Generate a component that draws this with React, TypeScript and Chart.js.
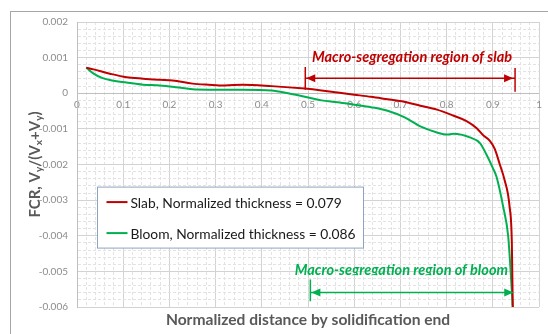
import React, { useEffect, useRef } from "react";
import { Chart, registerables } from "chart.js";

Chart.register(...registerables);

// ---- data ----
const slabX = [0.02, 0.036, 0.071, 0.107, 0.143, 0.179, 0.207, 0.25, 0.285, 0.32, 0.358, 0.421, 0.493, 0.529, 0.564, 0.6, 0.636, 0.672, 0.708, 0.743, 0.779, 0.815, 0.843, 0.865, 0.879, 0.893, 0.904, 0.915, 0.925, 0.936, 0.941, 0.943];
const slabY = [0.00072, 0.00067, 0.00055, 0.00045, 0.00041, 0.00038, 0.00036, 0.00027, 0.00024, 0.00022, 0.00024, 0.0002, 0.00013, 0.00008, 0.00002, -0.00004, -0.0001, -0.00017, -0.00024, -0.00035, -0.00046, -0.00063, -0.00078, -0.00098, -0.00118, -0.00133, -0.00156, -0.002, -0.00242, -0.00317, -0.0042, -0.006];
const bloomX = [0.02, 0.036, 0.054, 0.071, 0.107, 0.143, 0.179, 0.215, 0.25, 0.285, 0.358, 0.421, 0.457, 0.493, 0.529, 0.564, 0.6, 0.636, 0.672, 0.708, 0.743, 0.779, 0.8, 0.815, 0.85, 0.872, 0.886, 0.9, 0.908, 0.922, 0.933, 0.938, 0.943];
const bloomY = [0.00072, 0.00055, 0.00043, 0.00037, 0.0003, 0.00024, 0.00022, 0.00017, 0.00011, 0.0001, 0.0001, 0.00008, 0.0, -0.0001, -0.0002, -0.00025, -0.00032, -0.00039, -0.00049, -0.00067, -0.00093, -0.0011, -0.00116, -0.00114, -0.00124, -0.0014, -0.00172, -0.0021, -0.00235, -0.00317, -0.004, -0.0049, -0.006];

const seriesLabels = ["Slab, Normalized thickness = 0.079", "Bloom, Normalized thickness = 0.086"];
const seriesColors = ["#C00000", "#00B050"];

const xTitle = "Normalized distance by solidification end";
const xRange = [0, 1];
const yRange = [-0.006, 0.002];

// annotations: [xStart, xEnd, yArrow], tick spans, text position
const slabNote = "Macro-segregation region of slab";
const slabArrow = [0.494, 0.948, 0.00042];
const slabTicks = [0.00074, 0.0001, 0.00071, 0.00004];
const slabTextPos = [0.725, 0.001];
const bloomNote = "Macro-segregation region of bloom";
const bloomArrow = [0.505, 0.944, -0.00559];
const bloomTicks = [-0.00523, -0.00584];
const bloomTextPos = [0.702, -0.00497];

const isMajor = (v: number, unit: number) => Math.abs(v / unit - Math.round(v / unit)) < 1e-6;

export default function App() {
  const ref = useRef<HTMLCanvasElement | null>(null);

  useEffect(() => {
    if (!ref.current) return;

    const decor = {
      id: "decor",
      beforeDraw(chart: any) {
        const ctx = chart.ctx;
        ctx.save();
        ctx.fillStyle = "#ffffff";
        ctx.fillRect(0, 0, chart.width, chart.height);
        ctx.strokeStyle = "#a6a6a6";
        ctx.lineWidth = 1;
        ctx.strokeRect(10.5, 11.5, chart.width, chart.height);
        ctx.restore();
      },
      afterDraw(chart: any) {
        const ctx = chart.ctx;
        const xs = chart.scales.x;
        const ys = chart.scales.y;
        const px = (v: number) => xs.getPixelForValue(v);
        const py = (v: number) => ys.getPixelForValue(v);
        const area = chart.chartArea;

        const arrowHead = (tipX: number, y: number, dir: number, color: string) => {
          ctx.fillStyle = color;
          ctx.beginPath();
          ctx.moveTo(tipX, y);
          ctx.lineTo(tipX - dir * 9, y - 4);
          ctx.lineTo(tipX - dir * 9, y + 4);
          ctx.closePath();
          ctx.fill();
        };

        ctx.save();
        // slab annotation
        {
          const c = seriesColors[0];
          const x1 = px(slabArrow[0]);
          const x2 = px(slabArrow[1]);
          const y = py(slabArrow[2]);
          ctx.strokeStyle = c;
          ctx.lineWidth = 1.5;
          ctx.beginPath();
          ctx.moveTo(x1, y);
          ctx.lineTo(x2, y);
          ctx.moveTo(x1, py(slabTicks[0]));
          ctx.lineTo(x1, py(slabTicks[1]));
          ctx.moveTo(x2, py(slabTicks[2]));
          ctx.lineTo(x2, py(slabTicks[3]));
          ctx.stroke();
          arrowHead(x1 + 1, y, -1, c);
          arrowHead(x2 - 2, y, 1, c);
          ctx.font = "italic bold 14.5px Lato";
          ctx.fillStyle = c;
          ctx.textAlign = "center";
          ctx.textBaseline = "middle";
          ctx.fillText(slabNote, px(slabTextPos[0]), py(slabTextPos[1]));
        }
        // bloom annotation
        {
          const c = seriesColors[1];
          const x1 = px(bloomArrow[0]);
          const x2 = px(bloomArrow[1]);
          const y = py(bloomArrow[2]);
          ctx.strokeStyle = c;
          ctx.lineWidth = 1.5;
          ctx.beginPath();
          ctx.moveTo(x1, y);
          ctx.lineTo(x2, y);
          ctx.moveTo(x1, py(bloomTicks[0]));
          ctx.lineTo(x1, py(bloomTicks[1]));
          ctx.stroke();
          arrowHead(x1 + 1, y, -1, c);
          arrowHead(x2, y, 1, c);
          const ty = py(bloomTextPos[1]);
          ctx.save();
          ctx.beginPath();
          ctx.rect(0, ty - 20, chart.width, 25);
          ctx.clip();
          ctx.font = "italic bold 14.5px Lato";
          ctx.fillStyle = c;
          ctx.textAlign = "center";
          ctx.textBaseline = "middle";
          ctx.fillText(bloomNote, px(bloomTextPos[0]), ty);
          ctx.restore();
        }

        // legend box
        {
          const bx = area.left + 20.5;
          const by = py(-0.00262) + 0.5;
          const bw = 266;
          const bh = 61;
          ctx.fillStyle = "#ffffff";
          ctx.fillRect(bx, by, bw, bh);
          ctx.strokeStyle = "#8ea3bf";
          ctx.lineWidth = 1;
          ctx.strokeRect(bx, by, bw, bh);
          ctx.font = "13.8px Lato";
          ctx.textAlign = "left";
          ctx.textBaseline = "middle";
          chart.data.datasets.forEach((ds: any, i: number) => {
            const ly = by + 15 + i * 31;
            ctx.strokeStyle = ds.borderColor;
            ctx.lineWidth = 2;
            ctx.beginPath();
            ctx.moveTo(bx + 9, ly);
            ctx.lineTo(bx + 30, ly);
            ctx.stroke();
            ctx.fillStyle = "#1a1a1a";
            ctx.fillText(ds.label, bx + 33, ly + 1);
          });
        }

        // x title
        ctx.font = "bold 15.6px Lato";
        ctx.fillStyle = "#595959";
        ctx.textAlign = "center";
        ctx.textBaseline = "middle";
        ctx.fillText(xTitle, (area.left + area.right) / 2, 320);

        // y title with subscripts
        {
          const segs: [string, boolean][] = [
            ["FCR, V", false], ["y", true], ["/(V", false], ["x", true], ["+V", false], ["y", true], [")", false],
          ];
          const bigF = "bold 15px Lato";
          const subF = "bold 10px Lato";
          let total = 0;
          segs.forEach(([t, s]) => {
            ctx.font = s ? subF : bigF;
            total += ctx.measureText(t).width;
          });
          ctx.translate(35, (area.top + area.bottom) / 2);
          ctx.rotate(-Math.PI / 2);
          ctx.textAlign = "left";
          ctx.textBaseline = "middle";
          let cx = -total / 2;
          segs.forEach(([t, s]) => {
            ctx.font = s ? subF : bigF;
            ctx.fillText(t, cx, s ? 4 : 0);
            cx += ctx.measureText(t).width;
          });
        }
        ctx.restore();
      },
    };

    const chart = new Chart(ref.current, {
      type: "line",
      data: {
        datasets: [
          {
            label: seriesLabels[0],
            data: slabX.map((x, i) => ({ x, y: slabY[i] })),
            borderColor: seriesColors[0],
            borderWidth: 2,
            pointRadius: 0,
            fill: false,
            cubicInterpolationMode: "monotone",
          },
          {
            label: seriesLabels[1],
            data: bloomX.map((x, i) => ({ x, y: bloomY[i] })),
            borderColor: seriesColors[1],
            borderWidth: 2,
            pointRadius: 0,
            fill: false,
            cubicInterpolationMode: "monotone",
          },
        ],
      },
      options: {
        responsive: false,
        animation: false,
        events: [],
        layout: { padding: { top: 22, right: 5, left: 0, bottom: 0 } },
        plugins: { legend: { display: false }, tooltip: { enabled: false } },
        scales: {
          x: {
            type: "linear",
            position: "bottom",
            min: xRange[0],
            max: xRange[1],
            ticks: { display: false, stepSize: 0.02 },
            grid: {
              drawTicks: false,
              color: (c: any) => (c.tick && isMajor(c.tick.value, 0.1) ? "#d3d3d3" : "#e3e3e3"),
              lineWidth: 1,
            },
            border: {
              display: false,
              dash: (c: any) => (c.tick && !isMajor(c.tick.value, 0.1) ? [3, 2] : []),
            },
            afterFit: (s: any) => {
              s.height = 27;
            },
          },
          x2: {
            type: "linear",
            axis: "x",
            position: { y: 0 },
            min: xRange[0],
            max: xRange[1],
            ticks: {
              stepSize: 0.1,
              padding: 6,
              color: "#8c8c8c",
              font: { family: "Lato", size: 10 },
              callback: (v: any) => String(Math.round(Number(v) * 10) / 10),
            },
            grid: { display: false, drawTicks: false },
            border: { display: false },
          },
          y: {
            type: "linear",
            position: "left",
            min: yRange[0],
            max: yRange[1],
            ticks: {
              stepSize: 0.0002,
              autoSkip: false,
              padding: 9,
              color: "#8c8c8c",
              font: { family: "Lato", size: 10 },
              callback: (v: any) => {
                const n = Number(v);
                return isMajor(n, 0.001) ? String(Math.round(n * 1000) / 1000) : "";
              },
            },
            grid: {
              drawTicks: false,
              color: (c: any) => {
                if (!c.tick) return "#e3e3e3";
                if (Math.abs(c.tick.value) < 1e-9) return "#bfbfbf";
                return isMajor(c.tick.value, 0.001) ? "#d3d3d3" : "#e3e3e3";
              },
            },
            border: {
              display: true,
              color: "#bfbfbf",
              dash: (c: any) => (c.tick && !isMajor(c.tick.value, 0.001) ? [3, 2] : []),
            },
            afterFit: (s: any) => {
              s.width = 77;
            },
          },
        },
      },
      plugins: [decor],
    } as any);

    return () => chart.destroy();
  }, []);

  return (
    <div style={{ position: "absolute", left: 0, top: 0, width: 548, height: 334 }}>
      <canvas ref={ref} width={548} height={334} />
    </div>
  );
}
